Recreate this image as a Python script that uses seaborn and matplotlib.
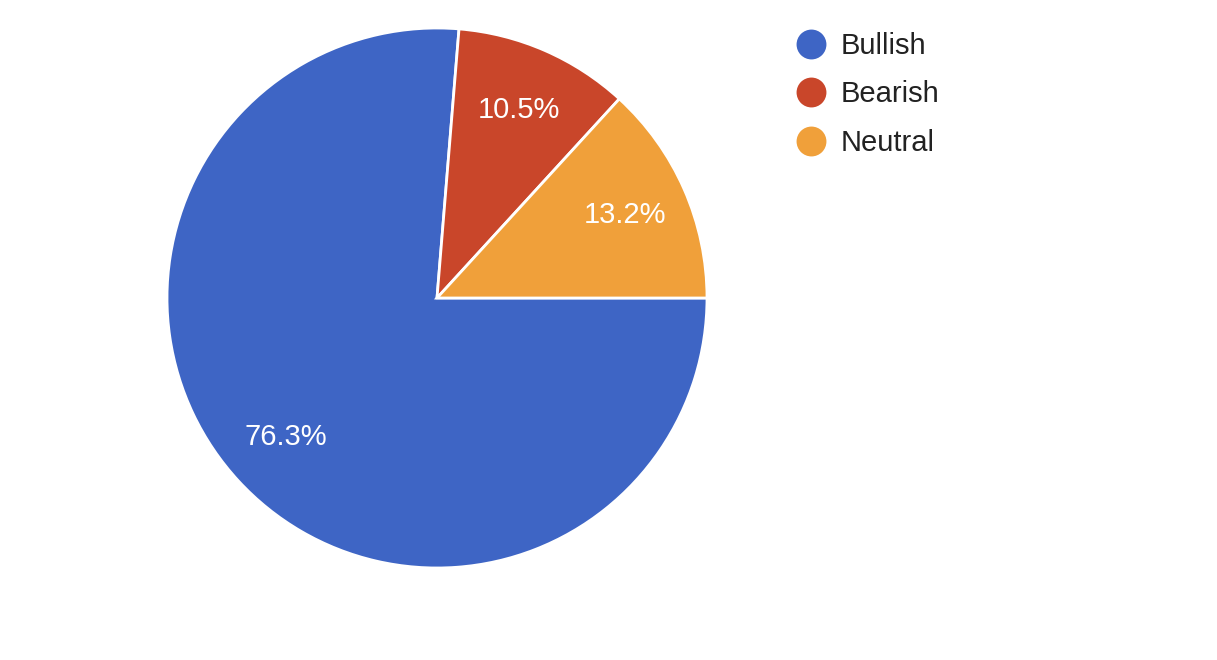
import matplotlib
matplotlib.use("Agg")
import matplotlib.pyplot as plt
from matplotlib.lines import Line2D
import seaborn as sns

categories = ["Bullish", "Bearish", "Neutral"]
values = [76.3, 10.5, 13.2]
colors = ["#3e65c5", "#c9462a", "#f0a03a"]

sns.set_theme(style="white")
plt.rcParams["font.family"] = ["Liberation Sans", "DejaVu Sans"]
palette = sns.color_palette(colors)

W, H = 1217, 660
fig = plt.figure(figsize=(W / 100, H / 100), dpi=100)
cx, cy, r = 437, 298, 270
ax = fig.add_axes([(cx - r) / W, (H - cy - r) / H, 2 * r / W, 2 * r / H])
wedges, texts, autotexts = ax.pie(
    values, colors=palette, startangle=0, counterclock=False,
    autopct="%.1f%%", pctdistance=0.76, radius=1,
    wedgeprops=dict(edgecolor="white", linewidth=2),
    textprops=dict(color="white", fontsize=21),
)
ax.set_xlim(-1.0, 1.0)
ax.set_ylim(-1.0, 1.0)
ax.set_aspect("equal")
ax.axis("off")

handles = [Line2D([], [], marker="o", ls="", markersize=21.5, color=c,
                  markeredgewidth=0) for c in palette]
leg = fig.legend(handles, categories, loc="upper left",
                 bbox_to_anchor=(795 / W, 1 - 32 / H), frameon=False,
                 fontsize=21, labelspacing=0.70, handlelength=1.1,
                 handletextpad=0.45, borderpad=0, borderaxespad=0)
for t in leg.get_texts():
    t.set_color("#222222")

fig.savefig("out.png", dpi=100, facecolor="white")
